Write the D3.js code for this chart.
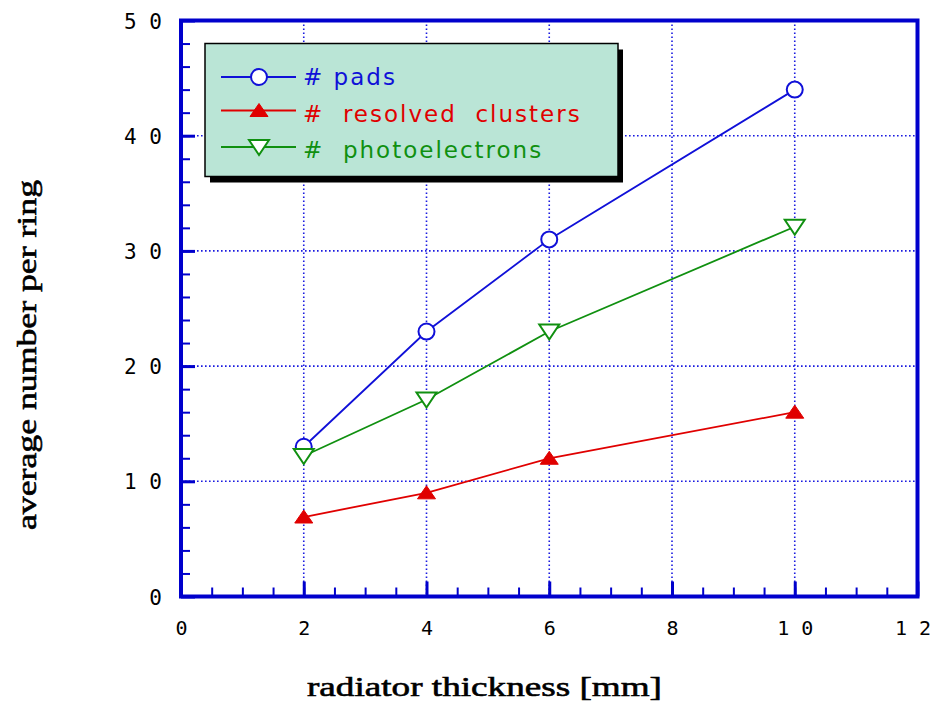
<!DOCTYPE html>
<html><head><meta charset="utf-8">
<script src="https://cdn.jsdelivr.net/npm/d3@7"></script>
<style>
html,body{margin:0;padding:0;background:#fff;}
svg{display:block;}
</style></head>
<body>
<script>
// ---- data ----
const xValues = [2, 4, 6, 10];
const padsValues = [13, 23, 31, 44];
const clusterValues = [6.9, 9, 12, 16];
const photoValues = [12.2, 17.1, 23, 32.1];
const seriesNames = ["# pads", "#  resolved  clusters", "#  photoelectrons"];
const xTickValues = [0, 2, 4, 6, 8, 10, 12];
const xTickLabels = ["0", "2", "4", "6", "8", "1 0", "1 2"];
const yTickValues = [0, 10, 20, 30, 40, 50];
const yTickLabels = ["0", "1 0", "2 0", "3 0", "4 0", "5 0"];
const xMinorTicks = d3.range(0, 12.01, 0.5);
const yMinorTicks = d3.range(0, 50.01, 2);
const xTitle = "radiator thickness [mm]";
const yTitle = "average number per ring";

// ---- layout ----
const W = 932, H = 705;
const L = 181, R = 917.5, T = 20.5, B = 596.5;
const frameColor = "#0000cc";
const colors = {pads: "#1010d8", clusters: "#e00000", photo: "#109010"};

const svg = d3.select("body").append("svg").attr("width", W).attr("height", H);
const x = d3.scaleLinear().domain([0, 12]).range([L, R]);
const y = d3.scaleLinear().domain([0, 50]).range([B, T]);

// grid
const grid = svg.append("g");
grid.selectAll("line.gx").data(xTickValues.filter(v => v > 0 && v < 12)).join("line")
  .attr("x1", d => x(d)).attr("x2", d => x(d)).attr("y1", T).attr("y2", B)
  .attr("stroke", "#1a1ae0").attr("stroke-width", 1.6).attr("stroke-dasharray", "1.6,2.4");
grid.selectAll("line.gy").data(yTickValues.filter(v => v > 0 && v < 50)).join("line")
  .attr("y1", d => y(d)).attr("y2", d => y(d)).attr("x1", L).attr("x2", R)
  .attr("stroke", "#1a1ae0").attr("stroke-width", 1.6).attr("stroke-dasharray", "1.6,2.4");

// minor ticks (inside)
const minX = svg.append("g").attr("transform", `translate(0,${B})`)
  .call(d3.axisBottom(x).tickValues(xMinorTicks).tickSize(-9).tickFormat(""));
minX.select(".domain").remove();
minX.selectAll("line").attr("stroke", frameColor).attr("stroke-width", 2);
const minY = svg.append("g").attr("transform", `translate(${L},0)`)
  .call(d3.axisLeft(y).tickValues(yMinorTicks).tickSize(-9).tickFormat(""));
minY.select(".domain").remove();
minY.selectAll("line").attr("stroke", frameColor).attr("stroke-width", 2);

// major ticks (inside) + labels
const majX = svg.append("g").attr("transform", `translate(0,${B})`)
  .call(d3.axisBottom(x).tickValues(xTickValues).tickSize(-15)
    .tickFormat((d, i) => xTickLabels[i]));
majX.select(".domain").remove();
majX.selectAll("line").attr("stroke", frameColor).attr("stroke-width", 3);
majX.selectAll("text").attr("fill", "#000").attr("font-family", "DejaVu Sans Mono")
  .attr("font-size", 20).attr("y", 38).attr("dy", 0).style("white-space", "pre")
  .attr("x", d => d === 12 ? -5 : 0);

const majY = svg.append("g").attr("transform", `translate(${L},0)`)
  .call(d3.axisLeft(y).tickValues(yTickValues).tickSize(-14)
    .tickFormat((d, i) => yTickLabels[i]));
majY.select(".domain").remove();
majY.selectAll("line").attr("stroke", frameColor).attr("stroke-width", 3);
majY.selectAll("text").attr("fill", "#000").attr("font-family", "DejaVu Sans Mono")
  .attr("font-size", 21).attr("x", -19).attr("dy", "0.36em").attr("text-anchor", "end")
  .style("white-space", "pre");

// frame
svg.append("rect").attr("x", L).attr("y", T).attr("width", R - L).attr("height", B - T)
  .attr("fill", "none").attr("stroke", frameColor).attr("stroke-width", 4);

// series
const series = [
  {key: "pads", values: padsValues, color: colors.pads, marker: "circle"},
  {key: "clusters", values: clusterValues, color: colors.clusters, marker: "up"},
  {key: "photo", values: photoValues, color: colors.photo, marker: "down"}
];
const line = d3.line().x(d => x(d[0])).y(d => y(d[1]));

function drawMarker(g, type, color, cx, cy) {
  if (type === "circle") {
    g.append("circle").attr("cx", cx).attr("cy", cy).attr("r", 8)
      .attr("fill", "#fff").attr("stroke", color).attr("stroke-width", 2);
  } else if (type === "up") {
    g.append("path").attr("d", `M${cx},${cy - 7}L${cx + 9},${cy + 6}L${cx - 9},${cy + 6}Z`)
      .attr("fill", color).attr("stroke", color).attr("stroke-width", 1);
  } else {
    g.append("path").attr("d", `M${cx - 10},${cy - 7}L${cx + 10},${cy - 7}L${cx},${cy + 8}Z`)
      .attr("fill", "#fff").attr("stroke", color).attr("stroke-width", 2);
  }
}

series.forEach(s => {
  const pts = xValues.map((xv, i) => [xv, s.values[i]]);
  svg.append("path").attr("d", line(pts)).attr("fill", "none")
    .attr("stroke", s.color).attr("stroke-width", 1.8);
});
series.forEach(s => {
  const g = svg.append("g");
  xValues.forEach((xv, i) => drawMarker(g, s.marker, s.color, x(xv), y(s.values[i])));
});

// legend
const lg = svg.append("g");
const lx = 205, ly = 43.5, lw = 413, lh = 133;
lg.append("rect").attr("x", lx + 5).attr("y", ly + 6).attr("width", lw).attr("height", lh).attr("fill", "#000");
lg.append("rect").attr("x", lx).attr("y", ly).attr("width", lw).attr("height", lh)
  .attr("fill", "#bae5d6").attr("stroke", "#000").attr("stroke-width", 1.5);
const rowLineY = [77, 110.5, 147];
const rowTextY = [85, 121.5, 158];
series.forEach((s, i) => {
  lg.append("line").attr("x1", 221).attr("x2", 296).attr("y1", rowLineY[i]).attr("y2", rowLineY[i])
    .attr("stroke", s.color).attr("stroke-width", 1.8);
  drawMarker(lg, s.marker, s.color, 259, rowLineY[i]);
  lg.append("text").attr("x", 303).attr("y", rowTextY[i]).text(seriesNames[i])
    .attr("fill", s.color).attr("font-family", "DejaVu Sans").attr("font-size", 23)
    .attr("letter-spacing", 2).style("white-space", "pre");
});

// axis titles
svg.append("text").attr("x", 307).attr("y", 696).text(xTitle)
  .attr("font-family", "Liberation Serif").attr("font-size", 28)
  .attr("fill", "#000").attr("stroke", "#000").attr("stroke-width", 0.6)
  .attr("textLength", 355).attr("lengthAdjust", "spacingAndGlyphs");
svg.append("text").attr("transform", "translate(36,530) rotate(-90)").text(yTitle)
  .attr("font-family", "Liberation Serif").attr("font-size", 28)
  .attr("fill", "#000").attr("stroke", "#000").attr("stroke-width", 0.6)
  .attr("textLength", 350).attr("lengthAdjust", "spacingAndGlyphs");
</script>
</body></html>
